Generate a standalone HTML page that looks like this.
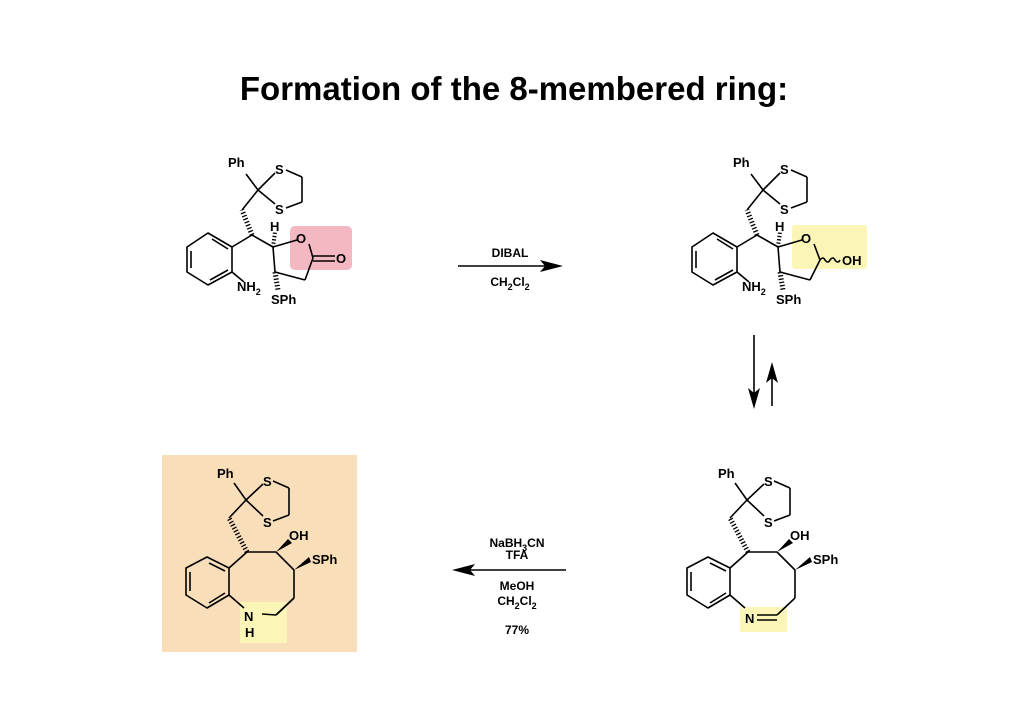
<!DOCTYPE html>
<html><head><meta charset="utf-8"><style>
html,body{margin:0;padding:0;background:#fff;}
svg{display:block;}
text{font-family:"Liberation Sans",Arial,sans-serif;font-weight:bold;fill:#000;}
</style></head><body>
<svg width="1024" height="724" viewBox="0 0 1024 724" xmlns="http://www.w3.org/2000/svg">
<defs>
<g id="top">
  <g stroke="#000" stroke-width="1.6" fill="none" stroke-linejoin="round">
    <polygon points="208,233 232,247 232,272 208,285 187,272 187,247"/>
    <line x1="212" y1="239" x2="228" y2="249"/>
    <line x1="191" y1="251" x2="191" y2="268"/>
    <line x1="210" y1="280" x2="228" y2="270"/>
    <line x1="232" y1="247" x2="252" y2="235"/>
    <line x1="252" y1="235" x2="273" y2="247"/>
    <line x1="232" y1="272" x2="244" y2="282"/>
    <line x1="246" y1="174" x2="258" y2="190"/>
    <line x1="258" y1="190" x2="275" y2="173"/>
    <line x1="258" y1="190" x2="275" y2="204"/>
    <line x1="286" y1="170" x2="302" y2="177"/>
    <line x1="302" y1="177" x2="302" y2="202"/>
    <line x1="302" y1="202" x2="286" y2="208"/>
    <line x1="258" y1="190" x2="242" y2="210"/>
    <line x1="273" y1="247" x2="297" y2="240"/>
    <line x1="273" y1="247" x2="275" y2="272"/>
    <line x1="275" y1="272" x2="305" y2="280"/>
  </g>
  <g stroke="#000" stroke-dasharray="1.3,2">
    <line x1="252" y1="235" x2="242" y2="210" stroke-width="5"/>
    <line x1="273" y1="247" x2="275" y2="232" stroke-width="4"/>
    <line x1="275" y1="272" x2="278" y2="290" stroke-width="5"/>
  </g>
  <text x="228" y="167" font-size="13">Ph</text>
  <text x="275" y="174" font-size="13">S</text>
  <text x="275" y="214" font-size="13">S</text>
  <text x="270" y="231" font-size="13">H</text>
  <text x="296" y="243" font-size="13">O</text>
  <text x="237" y="291" font-size="13">NH<tspan font-size="9" dy="4">2</tspan></text>
  <text x="271" y="304" font-size="13">SPh</text>
</g>
<g id="bot">
  <g stroke="#000" stroke-width="1.6" fill="none" stroke-linejoin="round">
    <polygon points="708,557 730,568 730,595 708,608 687,595 687,568"/>
    <line x1="710" y1="563" x2="726" y2="571"/>
    <line x1="691" y1="572" x2="691" y2="591"/>
    <line x1="710" y1="603" x2="726" y2="593"/>
    <line x1="730" y1="568" x2="748" y2="552"/>
    <line x1="748" y1="552" x2="777" y2="552"/>
    <line x1="777" y1="552" x2="795" y2="570"/>
    <line x1="795" y1="570" x2="795" y2="598"/>
    <line x1="795" y1="598" x2="777" y2="615"/>
    <line x1="730" y1="595" x2="745" y2="608"/>
    <line x1="735" y1="483" x2="747" y2="500"/>
    <line x1="747" y1="500" x2="764" y2="484"/>
    <line x1="747" y1="500" x2="764" y2="516"/>
    <line x1="774" y1="481" x2="790" y2="488"/>
    <line x1="790" y1="488" x2="790" y2="515"/>
    <line x1="790" y1="515" x2="774" y2="521"/>
    <line x1="747" y1="500" x2="730" y2="518"/>
  </g>
  <line x1="748" y1="552" x2="730" y2="518" stroke="#000" stroke-width="5" stroke-dasharray="1.3,2"/>
  <polygon points="777,552 789,539 793,543" fill="#000"/>
  <polygon points="795,570 810,557 812,562" fill="#000"/>
  <text x="718" y="478" font-size="13">Ph</text>
  <text x="764" y="486" font-size="13">S</text>
  <text x="764" y="527" font-size="13">S</text>
  <text x="790" y="540" font-size="13">OH</text>
  <text x="813" y="564" font-size="13">SPh</text>
</g>
</defs>

<text x="514" y="100" font-size="33" text-anchor="middle">Formation of the 8-membered ring:</text>

<rect x="290" y="226" width="62" height="44" rx="5" fill="#f3b8c2"/>
<use href="#top"/>
<g stroke="#000" stroke-width="1.6" fill="none">
  <line x1="309" y1="244" x2="313" y2="258"/>
  <line x1="313" y1="258" x2="305" y2="280"/>
  <line x1="313" y1="256" x2="335" y2="256"/>
  <line x1="313" y1="261" x2="335" y2="261"/>
</g>
<text x="336" y="263" font-size="13">O</text>

<line x1="458" y1="266" x2="548" y2="266" stroke="#000" stroke-width="1.6"/>
<polygon points="563,266 540,260 545,266 540,272" fill="#000"/>
<text x="510" y="257" font-size="12" text-anchor="middle">DIBAL</text>
<text x="510" y="286" font-size="12" text-anchor="middle">CH<tspan font-size="9" dy="4">2</tspan><tspan dy="-4">Cl</tspan><tspan font-size="9" dy="4">2</tspan></text>

<rect x="792" y="225" width="75" height="44" rx="3" fill="#fbf6b8"/>
<use href="#top" transform="translate(505,0)"/>
<g stroke="#000" stroke-width="1.6" fill="none">
  <line x1="814" y1="244" x2="820" y2="260"/>
  <line x1="820" y1="260" x2="810" y2="280"/>
  <path d="M820,260 q3,-4 5,0 q3,4 5,0 q3,-4 5,0 q3,4 5,0"/>
</g>
<text x="842" y="265" font-size="13">OH</text>

<line x1="754" y1="335" x2="754" y2="395" stroke="#000" stroke-width="1.6"/>
<polygon points="754,409 748,388 754,393 760,388" fill="#000"/>
<line x1="772" y1="378" x2="772" y2="406" stroke="#000" stroke-width="1.6"/>
<polygon points="772,362 766,383 772,378 778,383" fill="#000"/>

<rect x="740" y="607" width="47" height="25" fill="#fbf6b8"/>
<use href="#bot"/>
<g stroke="#000" stroke-width="1.6">
  <line x1="757" y1="615" x2="777" y2="615"/>
  <line x1="757" y1="620" x2="777" y2="620"/>
</g>
<text x="745" y="623" font-size="13">N</text>

<line x1="466" y1="570" x2="566" y2="570" stroke="#000" stroke-width="1.6"/>
<polygon points="452,570 475,564 470,570 475,576" fill="#000"/>
<text x="517" y="547" font-size="12" text-anchor="middle">NaBH<tspan font-size="9" dy="4">3</tspan><tspan dy="-4">CN</tspan></text>
<text x="517" y="559" font-size="12" text-anchor="middle">TFA</text>
<text x="517" y="590" font-size="12" text-anchor="middle">MeOH</text>
<text x="517" y="605" font-size="12" text-anchor="middle">CH<tspan font-size="9" dy="4">2</tspan><tspan dy="-4">Cl</tspan><tspan font-size="9" dy="4">2</tspan></text>
<text x="517" y="634" font-size="12" text-anchor="middle">77%</text>

<rect x="162" y="455" width="195" height="197" fill="#f9dfb9"/>
<rect x="240" y="602" width="47" height="41" fill="#fbf6b8"/>
<use href="#bot" transform="translate(-501,0)"/>
<line x1="276" y1="615" x2="294" y2="598" stroke="#000" stroke-width="1.6"/>
<line x1="262" y1="614" x2="276" y2="615" stroke="#000" stroke-width="1.6"/>
<text x="244" y="621" font-size="13">N</text>
<text x="245" y="637" font-size="13">H</text>
</svg>
</body></html>
